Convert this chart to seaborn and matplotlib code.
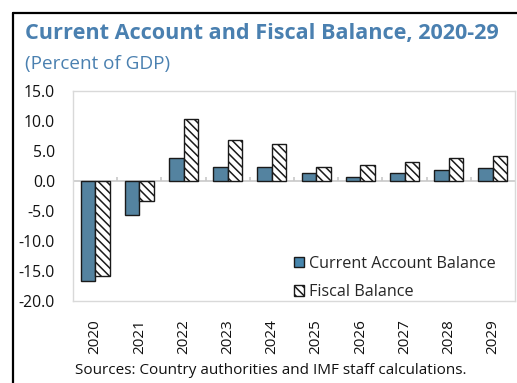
import matplotlib
matplotlib.use("Agg")
import matplotlib.pyplot as plt
from matplotlib.patches import Patch
from matplotlib.lines import Line2D
import seaborn as sns
import pandas as pd

years = ["2020", "2021", "2022", "2023", "2024", "2025", "2026", "2027", "2028", "2029"]
current_account = [-16.6, -5.6, 3.9, 2.4, 2.3, 1.3, 0.7, 1.4, 1.9, 2.1]
fiscal_balance = [-15.8, -3.3, 10.4, 6.8, 6.1, 2.4, 2.7, 3.2, 3.8, 4.1]
series_names = ["Current Account Balance", "Fiscal Balance"]

sns.set_theme(style="white")
plt.rcParams["font.family"] = ["Open Sans", "DejaVu Sans"]
plt.rcParams["hatch.linewidth"] = 1.1
plt.rcParams["hatch.color"] = "#333333"

df = pd.DataFrame({
    "year": years * 2,
    "value": current_account + fiscal_balance,
    "series": [series_names[0]] * len(years) + [series_names[1]] * len(years),
})

W, H = 517, 383
fig = plt.figure(figsize=(W / 100, H / 100), dpi=100)
ax = fig.add_axes([73 / W, 1 - 301 / H, (515 - 73) / W, (301 - 91) / H])

blue = "#4786AD"
sns.barplot(data=df, x="year", y="value", hue="series", order=years,
            hue_order=series_names, palette=[blue, "white"], width=0.66,
            edgecolor="#1A1A1A", linewidth=1.0, legend=False, ax=ax, zorder=3)

n = len(years)
for i, p in enumerate(ax.patches):
    if i >= n:
        p.set_hatch("\\\\\\\\")
        p.set_facecolor("white")

ax.set_ylim(-20, 15)
ax.set_xlim(-0.5, n - 0.5)
ax.set_yticks(range(-20, 16, 5))
ax.set_yticklabels([f"{v:.1f}" for v in range(-20, 16, 5)], fontsize=11.3, color="#111111")
ax.set_xticks(range(n))
ax.set_xticklabels(years, rotation=90, fontsize=11.0, color="#111111")
ax.tick_params(axis="y", length=0, pad=13)
ax.tick_params(axis="x", length=0, pad=13)
ax.set_xlabel("")
ax.set_ylabel("")
for s in ax.spines.values():
    s.set_color("#D9D9D9")
    s.set_linewidth(1.0)

ax.axhline(0, color="#C8C8C8", lw=1.2, zorder=2)
ax.vlines([k + 0.5 for k in range(n - 1)], 0, 0.7, color="#C8C8C8", lw=1.2, zorder=2)

handles = [Patch(facecolor=blue, edgecolor="#1A1A1A", lw=1.0),
           Patch(facecolor="white", edgecolor="#1A1A1A", hatch="\\\\\\\\", lw=1.0)]
leg = ax.legend(handles, series_names, loc="lower right", bbox_to_anchor=(0.982, -0.048),
                frameon=False, fontsize=11.6, handlelength=0.65, handleheight=0.65,
                handletextpad=0.3, labelspacing=0.75, borderaxespad=0.3)

def fitted(x, y, s, target_w, size, **kw):
    t = fig.text(x / W, 1 - y / H, s, fontsize=size, va="center", ha="left", **kw)
    r = fig.canvas.get_renderer()
    w = t.get_window_extent(r).width
    t.set_fontsize(size * target_w / w)
    return t

fitted(25, 34, "Current Account and Fiscal Balance, 2020-29", 477, 14,
       fontweight="bold", color="#4A80B0")
fitted(25, 64, "(Percent of GDP)", 145, 13, color="#4A80B0")
fitted(75, 370, "Sources: Country authorities and IMF staff calculations.", 392, 11,
       color="#111111")

fig.add_artist(Line2D([13 / W, 13 / W], [0, 1 - 13 / H], color="black", lw=1.6,
                      transform=fig.transFigure))
fig.add_artist(Line2D([13 / W, 1], [1 - 13 / H, 1 - 13 / H], color="black", lw=1.6,
                      transform=fig.transFigure))

fig.savefig("out.png", dpi=100)
